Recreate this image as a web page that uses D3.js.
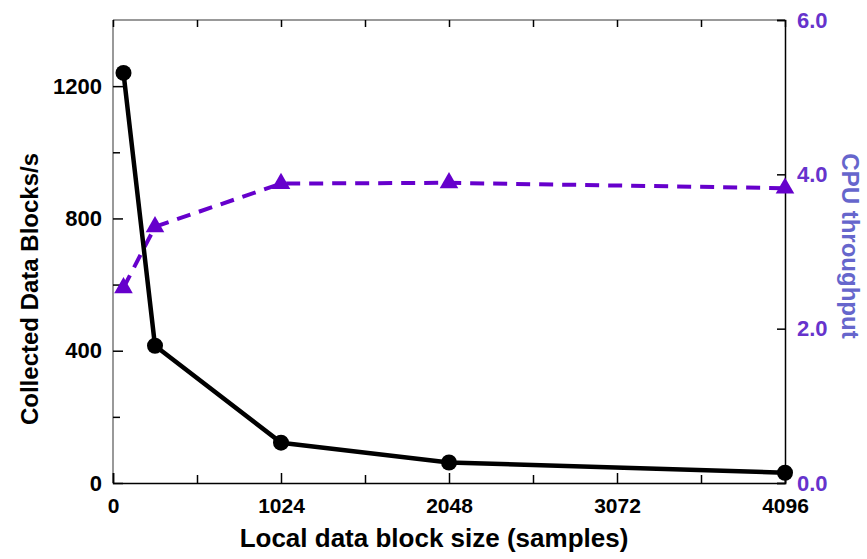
<!DOCTYPE html>
<html>
<head>
<meta charset="utf-8">
<script src="https://cdn.jsdelivr.net/npm/d3@7"></script>
<style>
  body { margin: 0; background: #fff; }
  text { font-family: "Liberation Sans", Arial, Helvetica, sans-serif; font-weight: bold; }
</style>
</head>
<body>
<div id="chart"></div>
<script>
// data
var blockSizes = [64, 256, 1024, 2048, 4096];
var collectedBlocks = [1240, 415, 122, 62, 31];
var cpuThroughput = [2.53, 3.32, 3.88, 3.89, 3.82];

var xTicks = [0, 1024, 2048, 3072, 4096];
var xMinorTicks = [512, 1536, 2560, 3584];
var leftTicks = [0, 400, 800, 1200];
var leftMinorTicks = [200, 600, 1000];
var rightTicks = [0, 2, 4, 6];

var W = 867, H = 559;
var margin = { top: 20, right: 82, bottom: 76, left: 113 },
  width = W - margin.left - margin.right,
  height = H - margin.top - margin.bottom;

var purple = "#6600cc";

var svg = d3.select("#chart").append("svg")
  .attr("width", W)
  .attr("height", H);

var g = svg.append("g")
  .attr("transform", "translate(" + margin.left + "," + margin.top + ")");

var x = d3.scaleLinear().domain([0, 4096]).range([0, width]);
var yL = d3.scaleLinear().domain([0, 1400]).range([height, 0]);
var yR = d3.scaleLinear().domain([0, 6]).range([height, 0]);

// frame
g.append("line").attr("x1", 0).attr("x2", width).attr("y1", 0).attr("y2", 0)
  .attr("stroke", "#777").attr("stroke-width", 1.5);
g.append("line").attr("x1", 0).attr("x2", 0).attr("y1", 0).attr("y2", height)
  .attr("stroke", "#777").attr("stroke-width", 1.5);

// bottom axis
var xAxis = g.append("g")
  .attr("transform", "translate(0," + height + ")")
  .call(d3.axisBottom(x).tickValues(xTicks).tickSize(-10).tickPadding(15)
    .tickFormat(d3.format("d")));
xAxis.select(".domain").attr("stroke", "#000").attr("stroke-width", 1.5);
xAxis.selectAll(".tick line").attr("stroke-width", 1.5);
xAxis.selectAll("text").attr("font-size", 21).attr("fill", "#000");

g.append("g")
  .attr("transform", "translate(0," + height + ")")
  .call(d3.axisBottom(x).tickValues(xMinorTicks).tickSize(-8).tickFormat(""))
  .call(function (a) { a.select(".domain").remove(); a.selectAll("line").attr("stroke-width", 1.5); });

// top ticks
g.append("g")
  .call(d3.axisTop(x).tickValues(xTicks.concat(xMinorTicks)).tickSize(-7).tickFormat(""))
  .call(function (a) { a.select(".domain").remove(); a.selectAll("line").attr("stroke-width", 1.5); });

// left axis
var yAxisL = g.append("g")
  .call(d3.axisLeft(yL).tickValues(leftTicks).tickSize(-10).tickPadding(11)
    .tickFormat(d3.format("d")));
yAxisL.select(".domain").remove();
yAxisL.selectAll(".tick line").attr("stroke-width", 1.5);
yAxisL.selectAll("text").attr("font-size", 22).attr("fill", "#000");

g.append("g")
  .call(d3.axisLeft(yL).tickValues(leftMinorTicks).tickSize(-7).tickFormat(""))
  .call(function (a) { a.select(".domain").remove(); a.selectAll("line").attr("stroke-width", 1.5); });

// right axis
var yAxisR = g.append("g")
  .attr("transform", "translate(" + width + ",0)")
  .call(d3.axisRight(yR).tickValues(rightTicks).tickSize(-8).tickPadding(12)
    .tickFormat(d3.format(".1f")));
yAxisR.select(".domain").attr("stroke", "#000").attr("stroke-width", 1.5);
yAxisR.selectAll(".tick line").attr("stroke-width", 1.5);
yAxisR.selectAll("text").attr("font-size", 22).attr("fill", "#6633cc");

// CPU throughput line (dashed, purple)
var cpuLine = d3.line()
  .x(function (d, i) { return x(blockSizes[i]); })
  .y(function (d) { return yR(d); });

g.append("path")
  .datum(cpuThroughput)
  .attr("fill", "none")
  .attr("stroke", purple)
  .attr("stroke-width", 4)
  .attr("stroke-dasharray", "14,9")
  .attr("d", cpuLine);

g.selectAll(".tri")
  .data(cpuThroughput)
  .enter().append("path")
  .attr("class", "tri")
  .attr("transform", function (d, i) { return "translate(" + x(blockSizes[i]) + "," + yR(d) + ")"; })
  .attr("d", d3.symbol().type(d3.symbolTriangle).size(150))
  .attr("fill", purple);

// collected blocks line (solid, black)
var blockLine = d3.line()
  .x(function (d, i) { return x(blockSizes[i]); })
  .y(function (d) { return yL(d); });

g.append("path")
  .datum(collectedBlocks)
  .attr("fill", "none")
  .attr("stroke", "#000")
  .attr("stroke-width", 4.5)
  .attr("stroke-linejoin", "round")
  .attr("d", blockLine);

g.selectAll(".dot")
  .data(collectedBlocks)
  .enter().append("circle")
  .attr("class", "dot")
  .attr("cx", function (d, i) { return x(blockSizes[i]); })
  .attr("cy", function (d) { return yL(d); })
  .attr("r", 8)
  .attr("fill", "#000");

// axis titles
svg.append("text")
  .attr("x", 434)
  .attr("y", 547)
  .attr("text-anchor", "middle")
  .attr("font-size", 26)
  .text("Local data block size (samples)");

svg.append("text")
  .attr("transform", "translate(38,289) rotate(-90)")
  .attr("text-anchor", "middle")
  .attr("font-size", 24)
  .text("Collected Data Blocks/s");

svg.append("text")
  .attr("transform", "translate(842,246) rotate(90)")
  .attr("text-anchor", "middle")
  .attr("font-size", 24)
  .attr("fill", "#6666cc")
  .text("CPU throughput");
</script>
</body>
</html>
